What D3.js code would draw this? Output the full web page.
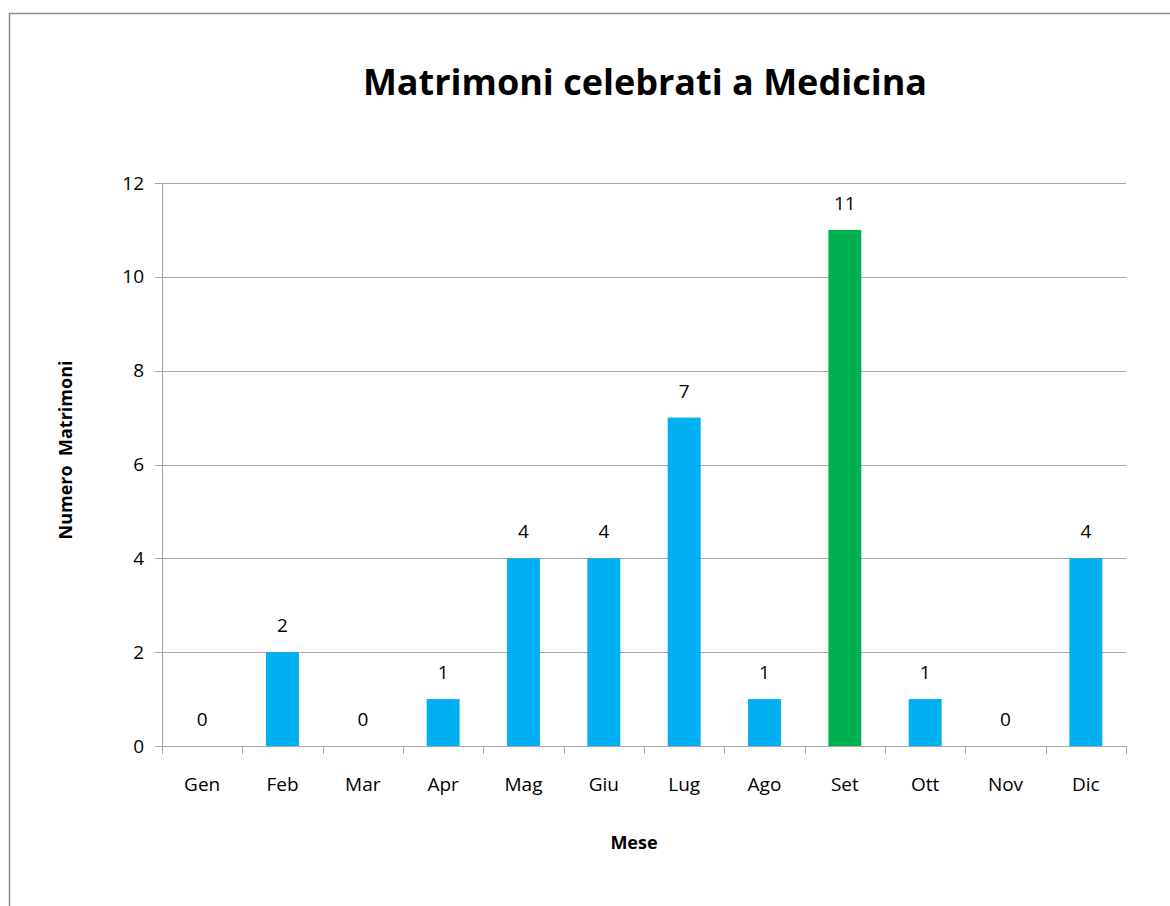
<html>
<head>
<meta charset="utf-8">
<script src="https://d3js.org/d3.v7.min.js"></script>
<style>
body { margin: 0; background: #fff; }
text { font-family: "Open Sans", "Noto Sans", sans-serif; fill: #000; }
</style>
</head>
<body>
<svg id="chart" width="1170" height="906"></svg>
<script>

// data
var mesi = ["Gen", "Feb", "Mar", "Apr", "Mag", "Giu", "Lug", "Ago", "Set", "Ott", "Nov", "Dic"];
var matrimoni = [0, 2, 0, 1, 4, 4, 7, 1, 11, 1, 0, 4];
var yTicks = [0, 2, 4, 6, 8, 10, 12];
var highlight = "Set";

var svg = d3.select("#chart");

// outer frame of the chart (cut off right and bottom)
svg.append("rect")
  .attr("x", 9.5).attr("y", 13.5)
  .attr("width", 1200).attr("height", 1000)
  .attr("fill", "white")
  .attr("stroke", "#8c8c8c")
  .attr("stroke-width", 1.5);

var plotLeft = 162, plotRight = 1126, plotTop = 183, plotBottom = 746;

var x = d3.scaleBand()
  .domain(mesi)
  .range([plotLeft, plotRight])
  .paddingInner(0.59)
  .paddingOuter(0.295);

var xb = d3.scaleBand().domain(mesi).range([plotLeft, plotRight]);

var y = d3.scaleLinear()
  .domain([0, 12])
  .range([plotBottom, plotTop]);

// gridlines
svg.append("g")
  .selectAll("line")
  .data(yTicks)
  .enter().append("line")
  .attr("x1", plotLeft - 7).attr("x2", plotRight)
  .attr("y1", function(d) { return Math.round(y(d)) + 0.5; })
  .attr("y2", function(d) { return Math.round(y(d)) + 0.5; })
  .attr("stroke", "#a6a6a6")
  .attr("stroke-width", 1);

// y axis line
svg.append("line")
  .attr("x1", plotLeft + 0.5).attr("x2", plotLeft + 0.5)
  .attr("y1", plotTop).attr("y2", plotBottom)
  .attr("stroke", "#a6a6a6");

// y tick labels
svg.append("g")
  .selectAll("text")
  .data(yTicks)
  .enter().append("text")
  .attr("x", plotLeft - 18)
  .attr("y", function(d) { return y(d); })
  .attr("dy", "0.35em")
  .attr("text-anchor", "end")
  .style("font-size", "19px")
  .text(function(d) { return d; });

// x tick marks between categories
var xTickPos = mesi.map(function(m) { return xb(m); }).concat([plotRight]);
svg.append("g")
  .selectAll("line")
  .data(xTickPos)
  .enter().append("line")
  .attr("x1", function(d) { return Math.round(d) + 0.5; })
  .attr("x2", function(d) { return Math.round(d) + 0.5; })
  .attr("y1", plotBottom).attr("y2", plotBottom + 8)
  .attr("stroke", "#a6a6a6");

// bars
svg.append("g")
  .selectAll("rect")
  .data(mesi)
  .enter().append("rect")
  .attr("x", function(d) { return x(d); })
  .attr("width", x.bandwidth())
  .attr("y", function(d, i) { return y(matrimoni[i]); })
  .attr("height", function(d, i) { return plotBottom - y(matrimoni[i]); })
  .attr("fill", function(d) { return d == highlight ? "#00b050" : "#00b0f0"; });

// value labels
svg.append("g")
  .selectAll("text")
  .data(mesi)
  .enter().append("text")
  .attr("x", function(d) { return xb(d) + xb.bandwidth() / 2; })
  .attr("y", function(d, i) { return y(matrimoni[i]) - 20; })
  .attr("text-anchor", "middle")
  .style("font-size", "19px")
  .text(function(d, i) { return matrimoni[i]; });

// month labels
svg.append("g")
  .selectAll("text")
  .data(mesi)
  .enter().append("text")
  .attr("x", function(d) { return xb(d) + xb.bandwidth() / 2; })
  .attr("y", 791)
  .attr("text-anchor", "middle")
  .style("font-size", "19px")
  .text(function(d) { return d; });

// title
svg.append("text")
  .attr("x", 645).attr("y", 95)
  .attr("text-anchor", "middle")
  .style("font-size", "36px")
  .style("font-weight", "bold")
  .text("Matrimoni celebrati a Medicina");

// axis titles
svg.append("text")
  .attr("x", 634).attr("y", 849)
  .attr("text-anchor", "middle")
  .style("font-size", "18px")
  .style("font-weight", "bold")
  .text("Mese");

svg.append("text")
  .attr("transform", "translate(72,450) rotate(-90)")
  .attr("text-anchor", "middle")
  .style("font-size", "18px")
  .style("font-weight", "bold")
  .style("white-space", "pre")
  .text("Numero  Matrimoni");

</script>
</body>
</html>
